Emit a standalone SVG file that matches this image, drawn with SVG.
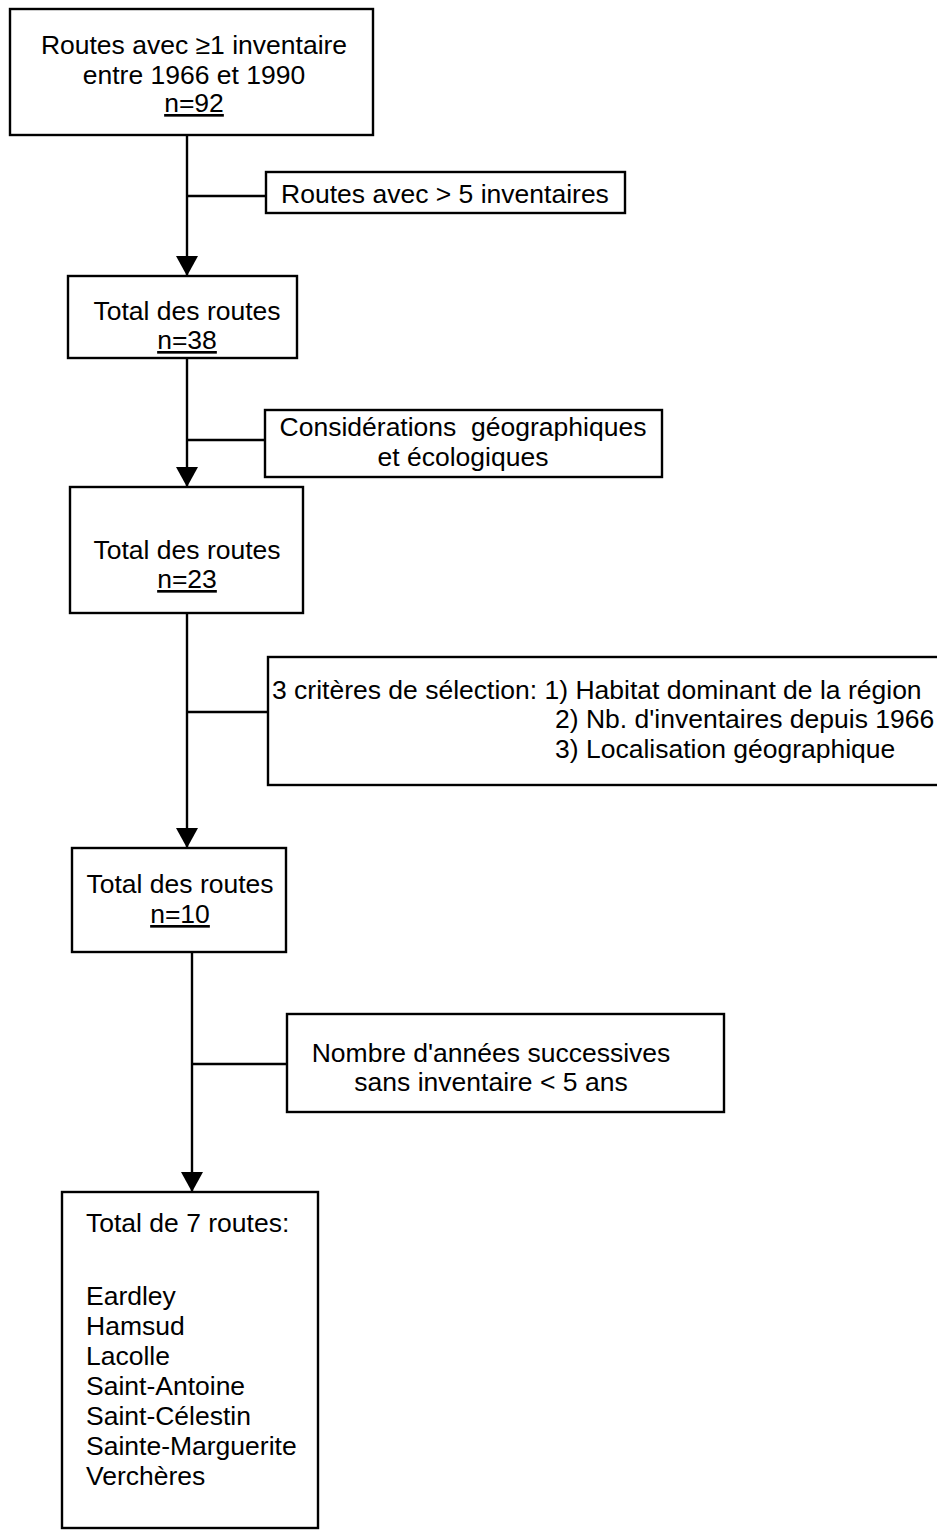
<svg xmlns="http://www.w3.org/2000/svg" width="937" height="1530" viewBox="0 0 937 1530">
<style>
.box{fill:#fff;stroke:#000;stroke-width:2.4}
.t{font-family:"Liberation Sans",Arial,sans-serif;font-size:26.5px;fill:#000}
.c{text-anchor:middle}
.u{text-decoration:underline}
.ln{stroke:#000;stroke-width:2.4;fill:none}
</style>
<defs>
<marker id="ah" markerWidth="24" markerHeight="24" refX="20" refY="11" orient="auto" markerUnits="userSpaceOnUse">
<path d="M0,0 L20,11 L0,22 Z" fill="#000"/>
</marker>
</defs>
<rect width="937" height="1530" fill="#fff"/>
<g id="connectors">
<line class="ln" x1="187" y1="135" x2="187" y2="276" marker-end="url(#ah)"/>
<line class="ln" x1="187" y1="196" x2="266" y2="196"/>
<line class="ln" x1="187" y1="358" x2="187" y2="487" marker-end="url(#ah)"/>
<line class="ln" x1="187" y1="440" x2="265" y2="440"/>
<line class="ln" x1="187" y1="613" x2="187" y2="848" marker-end="url(#ah)"/>
<line class="ln" x1="187" y1="712" x2="268" y2="712"/>
<line class="ln" x1="192" y1="952" x2="192" y2="1192" marker-end="url(#ah)"/>
<line class="ln" x1="192" y1="1064" x2="287" y2="1064"/>
</g>
<g id="n1">
<rect class="box" x="10" y="9" width="363" height="126"/>
<text class="t c" x="194" y="54">Routes avec ≥1 inventaire</text>
<text class="t c" x="194" y="84">entre 1966 et 1990</text>
<text class="t c" x="194" y="112"><tspan class="u">n=92</tspan></text>
</g>
<g id="f1">
<rect class="box" x="266" y="172" width="359" height="41"/>
<text class="t c" x="445" y="203">Routes avec &gt; 5 inventaires</text>
</g>
<g id="n2">
<rect class="box" x="68" y="276" width="229" height="82"/>
<text class="t c" x="187" y="320">Total des routes</text>
<text class="t c" x="187" y="349"><tspan class="u">n=38</tspan></text>
</g>
<g id="f2">
<rect class="box" x="265" y="410" width="397" height="67"/>
<text class="t c" x="463" y="436">Considérations&#160; géographiques</text>
<text class="t c" x="463" y="466">et écologiques</text>
</g>
<g id="n3">
<rect class="box" x="70" y="487" width="233" height="126"/>
<text class="t c" x="187" y="559">Total des routes</text>
<text class="t c" x="187" y="588"><tspan class="u">n=23</tspan></text>
</g>
<g id="f3">
<rect class="box" x="268" y="657" width="680" height="128"/>
<text class="t" x="272" y="699">3 critères de sélection: 1) Habitat dominant de la région</text>
<text class="t" x="555" y="728">2) Nb. d'inventaires depuis 1966</text>
<text class="t" x="555" y="758">3) Localisation géographique</text>
</g>
<g id="n4">
<rect class="box" x="72" y="848" width="214" height="104"/>
<text class="t c" x="180" y="893">Total des routes</text>
<text class="t c" x="180" y="923"><tspan class="u">n=10</tspan></text>
</g>
<g id="f4">
<rect class="box" x="287" y="1014" width="437" height="98"/>
<text class="t c" x="491" y="1062">Nombre d'années successives</text>
<text class="t c" x="491" y="1091">sans inventaire &lt; 5 ans</text>
</g>
<g id="n5">
<rect class="box" x="62" y="1192" width="256" height="336"/>
<text class="t" x="86" y="1232">Total de 7 routes:</text>
<text class="t" x="86" y="1305">Eardley</text>
<text class="t" x="86" y="1335">Hamsud</text>
<text class="t" x="86" y="1365">Lacolle</text>
<text class="t" x="86" y="1395">Saint-Antoine</text>
<text class="t" x="86" y="1425">Saint-Célestin</text>
<text class="t" x="86" y="1455">Sainte-Marguerite</text>
<text class="t" x="86" y="1485">Verchères</text>
</g>
</svg>
